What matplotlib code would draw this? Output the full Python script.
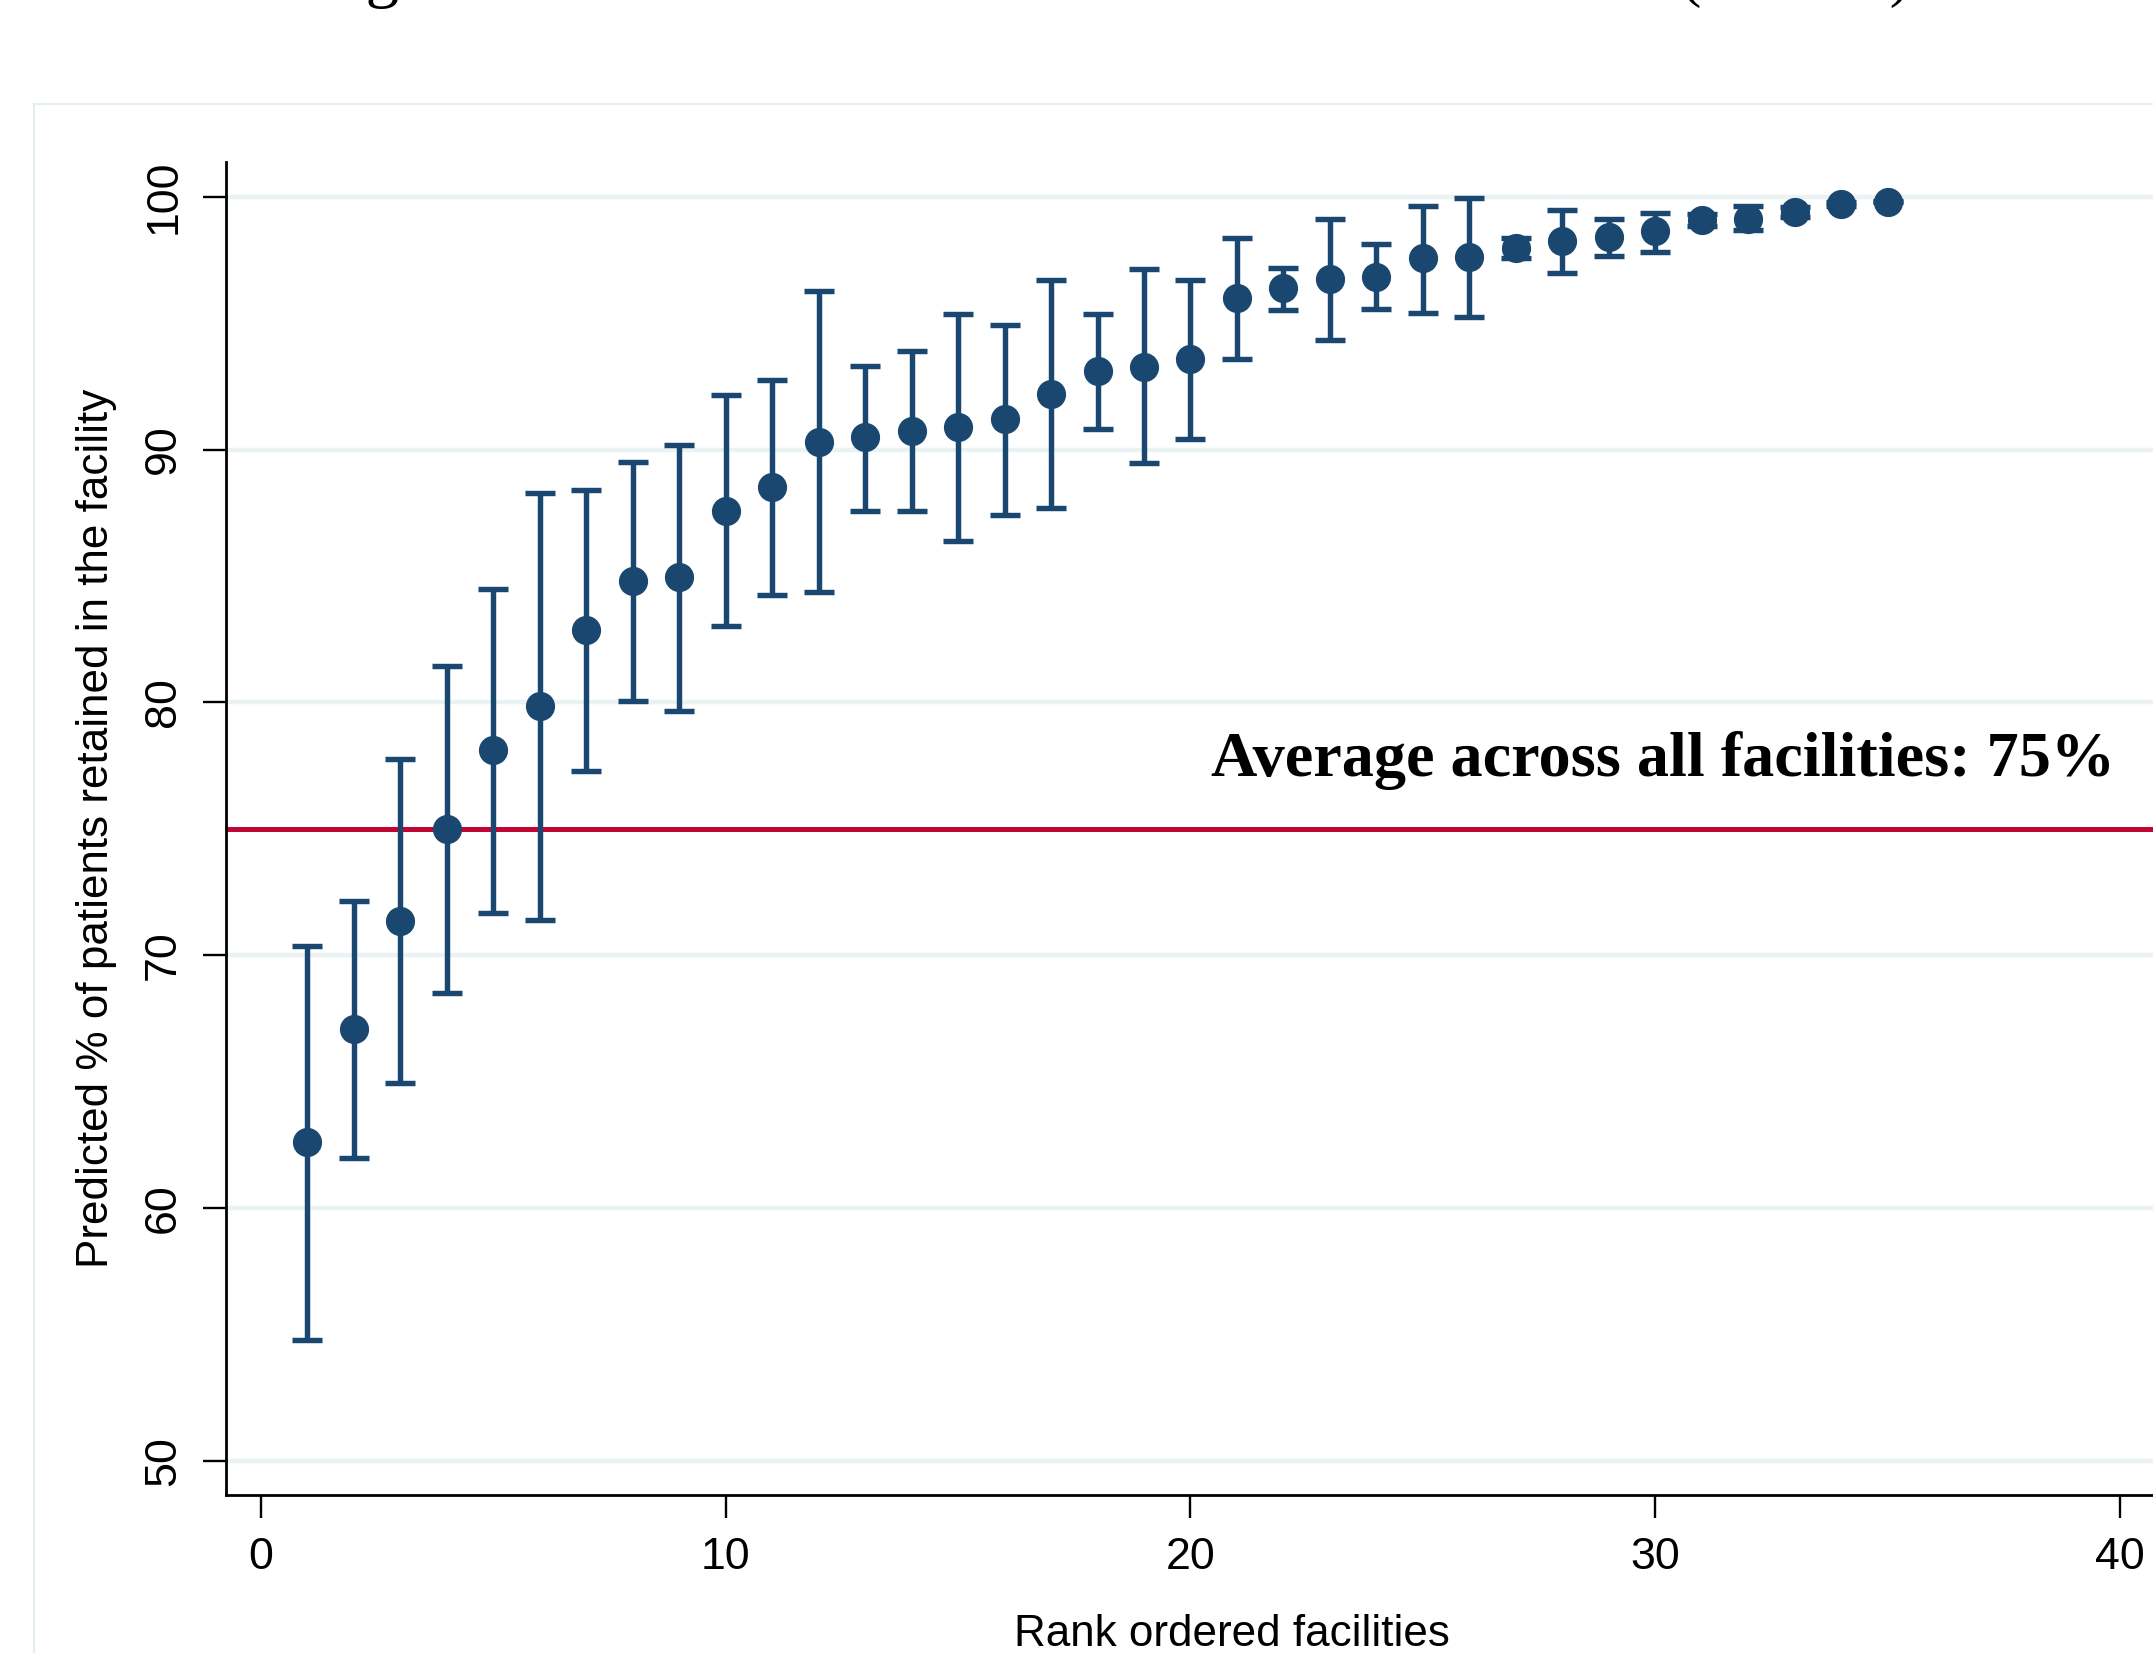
import numpy as np
import matplotlib
matplotlib.use("Agg")
import matplotlib.pyplot as plt
from matplotlib.lines import Line2D

# facility rank, predicted retention (%) and 95% CI
rank = np.arange(1, 36)
est = [62.60, 67.07, 71.35, 75.00, 78.10, 79.85, 82.87, 84.80, 84.97, 87.55,
       88.50, 90.30, 90.50, 90.75, 90.88, 91.20, 92.20, 93.12, 93.28, 93.57,
       95.98, 96.37, 96.74, 96.83, 97.58, 97.62, 97.98, 98.26, 98.42, 98.63,
       99.08, 99.11, 99.41, 99.70, 99.80]
lo = [54.79, 61.98, 64.95, 68.50, 71.66, 71.40, 77.30, 80.05, 79.68, 83.02,
      84.25, 84.36, 87.55, 87.55, 86.40, 87.40, 87.70, 90.83, 89.48, 90.40,
      93.58, 95.51, 94.32, 95.57, 95.41, 95.25, 97.56, 96.99, 97.66, 97.82,
      98.82, 98.68, 99.21, 99.62, 99.78]
hi = [70.36, 72.13, 77.78, 81.45, 84.47, 88.27, 88.39, 89.50, 90.17, 92.14,
      92.74, 96.27, 93.32, 93.90, 95.36, 94.93, 96.71, 95.36, 97.13, 96.71,
      98.37, 97.18, 99.11, 98.11, 99.63, 99.95, 98.38, 99.48, 99.11, 99.37,
      99.31, 99.62, 99.61, 99.78, 99.82]
avg = 75
xticks = [0, 10, 20, 30, 40]
yticks = [50, 60, 70, 80, 90, 100]

navy = '#1a476f'
red = '#c10534'
grid = '#eaf2f3'

est = np.array(est)
lo = np.array(lo)
hi = np.array(hi)

fig = plt.figure(figsize=(21.53, 16.53), dpi=100, facecolor='white')

# light outer frame (graph region border), partly cropped in the original
fig.add_artist(Line2D([34/2153, 1.0], [1 - 104/1653, 1 - 104/1653],
                      transform=fig.transFigure, color='#e6edef', lw=1.5))
fig.add_artist(Line2D([34/2153, 34/2153], [0, 1 - 104/1653],
                      transform=fig.transFigure, color='#e6edef', lw=1.5))

# title, only the descenders survive the crop
fig.text(310/2153, 1 + 5/1653, 'Figure 2: Facilities ranked on retention in care',
         family='Liberation Serif', fontsize=48, ha='left', va='baseline')
fig.text(1681/2153, 1 + 5/1653, '(95% CI)',
         family='Liberation Serif', fontsize=44, ha='left', va='baseline')

ax = fig.add_axes([0.1052, 0.0956, 0.9445, 0.8064])
ax.set_xlim(-0.74, 43.01)
ax.set_ylim(48.66, 101.37)

for y in yticks:
    ax.axhline(y, color=grid, lw=3.2, zorder=0)

ax.axhline(avg, color=red, lw=3.6, zorder=1)

ax.errorbar(rank, est, yerr=[est - lo, hi - est], fmt='o', color=navy,
            ms=20, elinewidth=3.9, capsize=10.6, capthick=3.9, zorder=3)

ax.text(20.45, 77.09, 'Average across all facilities: 75%', family='Liberation Serif',
        fontweight='bold', fontsize=46.2, ha='left', va='baseline')

for s in ['top', 'right']:
    ax.spines[s].set_visible(False)
for s in ['left', 'bottom']:
    ax.spines[s].set_linewidth(2)

ax.set_xticks(xticks)
ax.set_yticks(yticks)
ax.tick_params(axis='both', length=16.5, width=1.7, labelsize=32.2, pad=14)
for lab in ax.get_xticklabels() + ax.get_yticklabels():
    lab.set_family('Liberation Sans')
for lab in ax.get_yticklabels():
    lab.set_rotation(90)
    lab.set_va('center')

ax.set_xlabel('Rank ordered facilities', family='Liberation Sans', fontsize=31.7)
ax.xaxis.set_label_coords(0.4943, -0.089)
ax.set_ylabel('Predicted % of patients retained in the facility', family='Liberation Sans',
              fontsize=31.7, labelpad=19)

fig.savefig('out.png', dpi=100, facecolor='white')
